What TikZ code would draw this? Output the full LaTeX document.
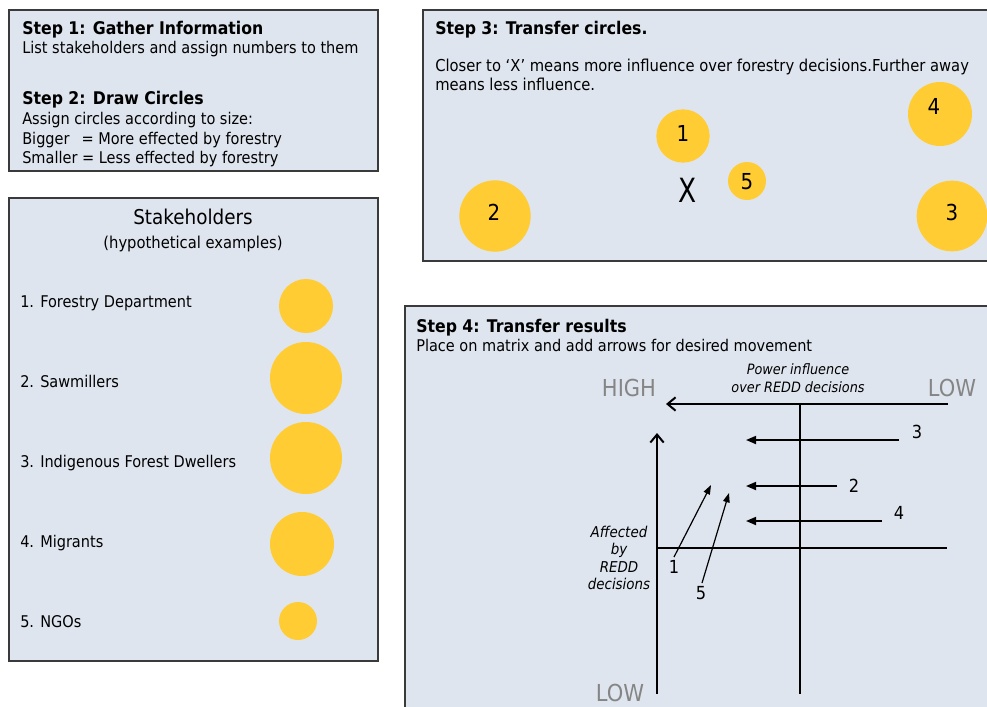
\documentclass[tikz,border=0pt]{standalone}
\usepackage{fontspec}
\setmainfont{DejaVu Sans Condensed}
\usetikzlibrary{arrows.meta}
\definecolor{boxfill}{HTML}{DFE5EF}
\definecolor{boxline}{HTML}{3A3A3A}
\definecolor{sun}{HTML}{FFCC33}
\definecolor{lowgray}{HTML}{858585}
\begin{document}
\begin{tikzpicture}[x=0.75pt,y=-0.75pt,
  panel/.style={draw=boxline,fill=boxfill,line width=1.1pt},
  ttl/.style={anchor=base west,inner sep=0pt,font=\fontsize{13.1}{15}\selectfont\bfseries},
  body/.style={anchor=base west,inner sep=0pt,font=\fontsize{12.1}{14.5}\selectfont},
  item/.style={anchor=base west,inner sep=0pt,font=\fontsize{12.1}{14}\selectfont},
  dot/.style={circle,fill=sun,inner sep=0pt},
  num/.style={inner sep=0pt,font=\fontsize{16.5}{18}\selectfont},
  axis/.style={line width=1.5pt},
  lvl/.style={inner sep=0pt,text=lowgray,font=\fontsize{17.5}{19}\selectfont},
  mnum/.style={inner sep=0pt,font=\fontsize{13.5}{15}\selectfont},
  move/.style={line width=1.3pt,-{Triangle[length=7.5pt,width=6pt]}},
  diag/.style={line width=0.9pt,-{Triangle[length=7pt,width=5pt]}},
  openarrow/.style={-{Straight Barb[length=6pt,width=10pt,line width=1.5pt]}}
]
\useasboundingbox (0,0) rectangle (987,706);
\fill[white] (0,0) rectangle (987,706);
\clip (0,0) rectangle (987,706);

% Box 1
\draw[panel] (9,10) rectangle (378,171);
\node[ttl] (s1) at (22,35) {Step 1: Gather Information};
\node[body] (s1b) at (22,54) {List stakeholders and assign numbers to them};
\node[ttl] (s2) at (22,105) {Step 2: Draw Circles};
\node[body] (s2a) at (22,125) {Assign circles according to size:};
\node[body] (s2b) at (22,144) {Bigger\hspace{9pt}= More effected by forestry};
\node[body] (s2c) at (22,163) {Smaller = Less effected by forestry};

% Box 2
\draw[panel] (9,198) rectangle (378,661);
\node[inner sep=0pt,anchor=base,font=\fontsize{15.3}{17}\selectfont] (sh) at (193,224) {Stakeholders};
\node[inner sep=0pt,anchor=base,font=\fontsize{12.3}{14}\selectfont] (hy) at (193,248) {(hypothetical examples)};
\node[item] (i1) at (20,307) {\makebox[15pt][l]{1.}Forestry Department};
\node[item] (i2) at (20,387) {\makebox[15pt][l]{2.}Sawmillers};
\node[item] (i3) at (20,467) {\makebox[15pt][l]{3.}Indigenous Forest Dwellers};
\node[item] (i4) at (20,547) {\makebox[15pt][l]{4.}Migrants};
\node[item] (i5) at (20,627) {\makebox[15pt][l]{5.}NGOs};
\node[dot,minimum size=40.5pt] (d1) at (306,306) {};
\node[dot,minimum size=54pt] (d2) at (306,378) {};
\node[dot,minimum size=54pt] (d3) at (306,458) {};
\node[dot,minimum size=48pt] (d4) at (302,544) {};
\node[dot,minimum size=28.5pt] (d5) at (298,621) {};

% Box 3
\draw[panel] (423,10) rectangle (1000,261);
\node[ttl] (s3) at (435,35) {Step 3: Transfer circles.};
\node[body,font=\fontsize{12.3}{14.5}\selectfont] (s3a) at (435,72) {Closer to ‘X’ means more influence over forestry decisions.Further away};
\node[body,font=\fontsize{12.3}{14.5}\selectfont] (s3b) at (435,91) {means less influence.};
\node[dot,minimum size=40pt] (c1) at (683,136) {};
\node[dot,minimum size=28.5pt] (c5) at (747,181) {};
\node[dot,minimum size=53.5pt] (c2) at (495,216) {};
\node[dot,minimum size=48pt] (c4) at (940,114) {};
\node[dot,minimum size=53pt] (c3) at (952,216) {};
\node[num] (l1) at (683,133) {1};
\node[num] (l5) at (747,182) {5};
\node[num] (l2) at (494,212) {2};
\node[num] (l4) at (934,106) {4};
\node[num] (l3) at (952,212) {3};
\node[inner sep=0pt,font=\fontsize{25}{27}\selectfont] (xx) at (688,190) {\scalebox{0.88}[1]{X}};

% Box 4
\draw[panel] (405,306) rectangle (1000,720);
\node[ttl] (s4) at (416,332) {Step 4: Transfer results};
\node[body] (s4a) at (416,351) {Place on matrix and add arrows for desired movement};

\node[lvl] (high) at (629,388) {HIGH};
\node[lvl] (lowr) at (952,388) {LOW};
\node[lvl] (lowb) at (620,693) {LOW};
\node[inner sep=0pt,align=center,font=\fontsize{10.7}{13.5}\selectfont\itshape] (pw) at (798,378) {Power influence\\over REDD decisions};
\node[inner sep=0pt,align=center,font=\fontsize{11.2}{13.2}\selectfont\itshape] (af) at (619,558) {Affected\\by\\REDD\\decisions};

\coordinate (hR) at (948,404);
\coordinate (hL) at (666,404);
\coordinate (vT) at (800,404);
\coordinate (vB) at (800,694);
\coordinate (yB) at (657,694);
\coordinate (yT) at (657,433);
\coordinate (mL) at (657,548);
\coordinate (mR) at (947,548);
\draw[axis,openarrow] (hR) -- (hL);
\draw[axis] (vT) -- (vB);
\draw[axis,openarrow] (yB) -- (yT);
\draw[axis] (mL) -- (mR);

\node[mnum] (m3) at (917,432) {3};
\node[mnum] (m2) at (854,486) {2};
\node[mnum] (m4) at (899,513) {4};
\node[mnum] (m1) at (674,567) {1};
\node[mnum] (m5) at (701,593) {5};
\coordinate (a3s) at (899,440); \coordinate (a3e) at (746,440);
\coordinate (a2s) at (837,486); \coordinate (a2e) at (746,486);
\coordinate (a4s) at (882,521); \coordinate (a4e) at (746,521);
\coordinate (a1s) at (674,557); \coordinate (a1e) at (711,485);
\coordinate (a5s) at (702,583); \coordinate (a5e) at (729,493);
\draw[move] (a3s) -- (a3e);
\draw[move] (a2s) -- (a2e);
\draw[move] (a4s) -- (a4e);
\draw[diag] (a1s) -- (a1e);
\draw[diag] (a5s) -- (a5e);
\end{tikzpicture}
\end{document}
